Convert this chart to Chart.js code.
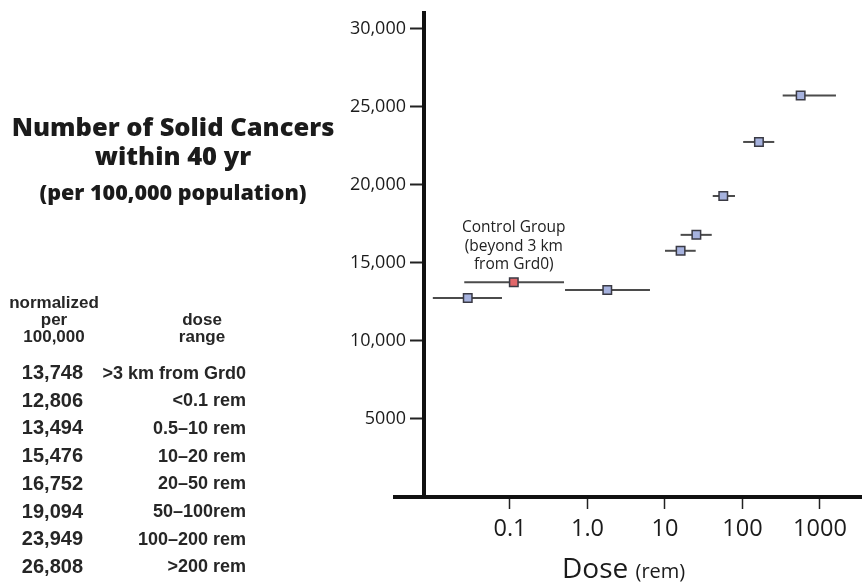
<!DOCTYPE html>
<html>
<head>
<meta charset="utf-8">
<script src="https://cdn.jsdelivr.net/npm/chart.js@4.4.1/dist/chart.umd.min.js"></script>
<style>
  body { margin: 0; background: #fff; }
  #wrap { position: relative; width: 862px; height: 587px; overflow: hidden; }
  #chart { position: absolute; left: 0; top: 0; }
  .txt { position: absolute; white-space: nowrap; color: #1b1b1b; }
  .title { font-family: "Open Sans", sans-serif; font-weight: 800; text-align: center; left: 0; width: 346px; line-height: 1; }
  .tab { font-family: "Liberation Sans", Arial, sans-serif; font-weight: bold; color: #262626; }
  #note { font-family: "Open Sans", sans-serif; font-size: 15.5px; line-height: 18.3px; text-align: center; width: 160px; color: #222; }
  #xtitle { font-family: "Open Sans", sans-serif; font-size: 28px; line-height: 34px; left: 562px; top: 550px; color: #1b1b1b; }
  #xtitle span { font-size: 20px; }
</style>
</head>
<body>
<div id="wrap">
  <canvas id="chart" width="862" height="587"></canvas>

  <div class="txt title" style="top:114px; font-size:25.5px;">Number of Solid Cancers</div>
  <div class="txt title" style="top:143px; font-size:25.5px;">within 40 yr</div>
  <div class="txt title" style="top:181px; font-size:21.5px;">(per 100,000 population)</div>

  <div class="txt tab" style="left:4px; width:100px; top:294px; font-size:17px; line-height:17px; text-align:center;">normalized<br>per<br>100,000</div>
  <div class="txt tab" style="left:152px; width:100px; top:311px; font-size:17px; line-height:17px; text-align:center;">dose<br>range</div>
  <div id="rows"></div>

  <div id="note" class="txt">Control Group<br>(beyond 3 km<br>from Grd0)</div>
  <div id="xtitle" class="txt">Dose <span>(rem)</span></div>
</div>

<script>
// dose groups, same order as the table on the left
const groups = ['>3 km from Grd0', '<0.1 rem', '0.5–10 rem', '10–20 rem', '20–50 rem', '50–100rem', '100–200 rem', '>200 rem'];
const normalized = ['13,748', '12,806', '13,494', '15,476', '16,752', '19,094', '23,949', '26,808'];

// plotted points (dose in rem, solid cancers per 100,000)
const doseMid  = [0.112, 0.0285, 1.8, 15.9, 25.4, 56.5, 163, 563];
const doseLow  = [0.0257, 0.0101, 0.513, 10, 15.9, 41.3, 102, 330];
const doseHigh = [0.498, 0.0788, 6.4, 24.9, 40.1, 80, 257, 1607];
const cancers  = [13750, 12750, 13260, 15770, 16790, 19280, 22740, 25710];

const xTicks = [0.1, 1, 10, 100, 1000];
const xTickLabels = ['0.1', '1.0', '10', '100', '1000'];
const yTicks = [5000, 10000, 15000, 20000, 25000, 30000];
const yTickLabels = ['5000', '10,000', '15,000', '20,000', '25,000', '30,000'];

// build the table of normalized values
const rows = document.getElementById('rows');
groups.forEach(function (g, i) {
  const top = 362 + i * 27.7;
  const v = document.createElement('div');
  v.className = 'txt tab';
  v.style.cssText = 'left:0; width:83px; text-align:right; font-size:20px; line-height:20px; top:' + top + 'px;';
  v.textContent = normalized[i];
  rows.appendChild(v);
  const d = document.createElement('div');
  d.className = 'txt tab';
  d.style.cssText = 'left:90px; width:156px; text-align:right; font-size:18px; line-height:20px; top:' + (top + 0.5) + 'px;';
  d.textContent = g;
  rows.appendChild(d);
});

// markers first so they are drawn on top of the range bars
const datasets = [{
  type: 'scatter',
  data: doseMid.map((x, i) => ({ x: x, y: cancers[i] })),
  pointStyle: 'rect',
  pointRadius: 6,
  pointHoverRadius: 6,
  pointBackgroundColor: doseMid.map((x, i) => i === 0 ? '#e0676a' : '#a6b2de'),
  pointBorderColor: '#3a3a44',
  pointBorderWidth: 1.5
}];
doseMid.forEach(function (x, i) {
  datasets.push({
    type: 'line',
    data: [{ x: doseLow[i], y: cancers[i] }, { x: doseHigh[i], y: cancers[i] }],
    borderColor: '#4b4b4b',
    borderWidth: 2,
    pointRadius: 0,
    fill: false
  });
});

// the x axis line runs a little past the y axis on the left
const axisStub = {
  id: 'axisStub',
  afterDraw(chart) {
    const { ctx, chartArea } = chart;
    ctx.save();
    ctx.strokeStyle = '#111';
    ctx.lineWidth = 4;
    ctx.beginPath();
    ctx.moveTo(chartArea.left - 31, chartArea.bottom);
    ctx.lineTo(chartArea.left, chartArea.bottom);
    ctx.stroke();
    ctx.restore();
  }
};

const chart = new Chart(document.getElementById('chart'), {
  type: 'scatter',
  data: { datasets: datasets },
  plugins: [axisStub],
  options: {
    responsive: false,
    animation: false,
    layout: { autoPadding: false, padding: { top: 10, right: 0, bottom: 0, left: 0 } },
    plugins: { legend: { display: false }, tooltip: { enabled: false } },
    scales: {
      x: {
        type: 'logarithmic',
        min: 0.00777,
        max: 3483,
        bounds: 'data',
        afterBuildTicks: s => { s.ticks = xTicks.map(v => ({ value: v })); },
        afterFit: s => { s.height = 90; s.paddingLeft = 0; s.paddingRight = 0; },
        grid: { display: true, drawOnChartArea: false, drawTicks: true, tickLength: 12, tickWidth: 1.5, tickColor: '#222' },
        border: { display: true, color: '#111', width: 4 },
        ticks: {
          autoSkip: false, maxRotation: 0, padding: 9, color: '#1b1b1b',
          font: { family: 'Open Sans', size: 23.5, lineHeight: 1 },
          callback: (v, i) => xTickLabels[i]
        }
      },
      y: {
        min: 0,
        max: 31000,
        afterBuildTicks: s => { s.ticks = yTicks.map(v => ({ value: v })); },
        afterFit: s => { s.width = 424; },
        grid: { display: true, drawOnChartArea: false, drawTicks: true, tickLength: 14, tickWidth: 2, tickColor: '#222' },
        border: { display: true, color: '#111', width: 4 },
        ticks: {
          autoSkip: false, padding: 4, color: '#1b1b1b',
          font: { family: 'Open Sans', size: 18, lineHeight: 1 },
          callback: (v, i) => yTickLabels[i]
        }
      }
    }
  }
});

// place the control group note above its marker
const note = document.getElementById('note');
const cx = chart.scales.x.getPixelForValue(doseMid[0]);
const cy = chart.scales.y.getPixelForValue(cancers[0]);
note.style.left = (cx - 80) + 'px';
note.style.top = (cy - 65) + 'px';
</script>
</body>
</html>
